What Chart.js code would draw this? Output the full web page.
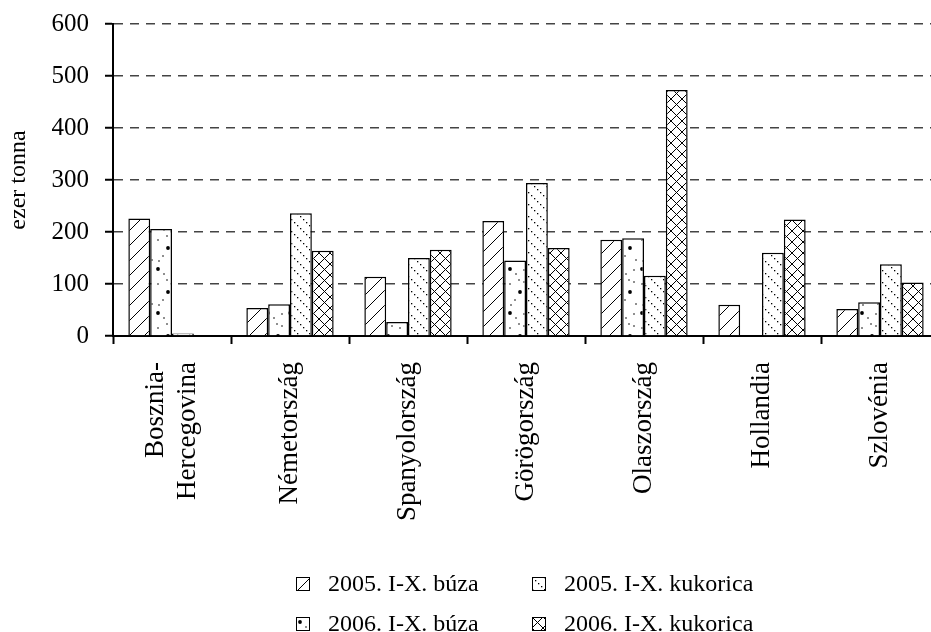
<!DOCTYPE html>
<html>
<head>
<meta charset="utf-8">
<script src="https://cdn.jsdelivr.net/npm/chart.js@4.4.1/dist/chart.umd.min.js"></script>
<style>
    html, body { margin: 0; padding: 0; background: #fff; width: 931px; height: 632px; overflow: hidden; }
    #wrap { position: absolute; left: 0; top: 0; width: 939px; height: 632px; }
    .leg { position: absolute; font-family: "Liberation Serif", "Times New Roman", serif; font-size: 24px; color: #000; line-height: 24px; white-space: nowrap; }
    .leg canvas { position: absolute; left: 0; top: 6px; }
    .leg span { position: absolute; left: 32px; top: 0; }
</style>
</head>
<body>
<div id="wrap"><canvas id="chart" width="939" height="632"></canvas></div>
<div class="leg" id="leg0" style="left:296px; top:571px;"><canvas width="14" height="14"></canvas><span></span></div>
<div class="leg" id="leg2" style="left:532px; top:571px;"><canvas width="14" height="14"></canvas><span></span></div>
<div class="leg" id="leg1" style="left:296px; top:611px;"><canvas width="14" height="14"></canvas><span></span></div>
<div class="leg" id="leg3" style="left:532px; top:611px;"><canvas width="14" height="14"></canvas><span></span></div>
<script>
(function () {
    'use strict';

    // data (ezer tonna)
    var categories = [['Bosznia-', 'Hercegovina'], 'Németország', 'Spanyolország', 'Görögország', 'Olaszország', 'Hollandia', 'Szlovénia'];
    var seriesNames = ['2005. I-X. búza', '2006. I-X. búza', '2005. I-X. kukorica', '2006. I-X. kukorica'];
    var buza2005 = [226, 54, 114, 221, 185, 60, 52];
    var buza2006 = [206, 61, 27, 145, 188, 0, 65];
    var kukorica2005 = [5, 236, 150, 294, 116, 160, 138];
    var kukorica2006 = [0, 164, 166, 169, 473, 224, 103];
    var yMin = 0, yMax = 600, yStep = 100;

    var FONT = '"Liberation Serif", "Times New Roman", serif';

    function tile(w, h, draw) {
        var c = document.createElement('canvas');
        c.width = w; c.height = h;
        var ctx = c.getContext('2d');
        ctx.fillStyle = '#fff';
        ctx.fillRect(0, 0, w, h);
        ctx.strokeStyle = '#000';
        ctx.fillStyle = '#000';
        ctx.lineWidth = 1;
        draw(ctx, w, h);
        return c;
    }

    function hatchTile() {
        return tile(15, 15, function (ctx, w, h) {
            ctx.beginPath();
            ctx.moveTo(-1, h + 1); ctx.lineTo(w + 1, -1);
            ctx.moveTo(-1, 1); ctx.lineTo(1, -1);
            ctx.moveTo(w - 1, h + 1); ctx.lineTo(w + 1, h - 1);
            ctx.stroke();
        });
    }

    function dotsTile() {
        return tile(22, 44, function (ctx) {
            var big = [[4, 5], [14, 28]];
            var small = [[10, 10], [18, 6], [4, 20], [18, 18], [9, 36], [20, 40], [5, 41], [13, 16]];
            big.forEach(function (p) { ctx.beginPath(); ctx.arc(p[0], p[1], 1.9, 0, Math.PI * 2); ctx.fill(); });
            small.forEach(function (p) { ctx.beginPath(); ctx.arc(p[0], p[1], 0.8, 0, Math.PI * 2); ctx.fill(); });
        });
    }

    function dottedDiagTile() {
        return tile(12, 12, function (ctx) {
            [0, 3, 6, 9].forEach(function (d) {
                ctx.fillRect(d, d, 1.3, 1.3);
            });
        });
    }

    function crossTile() {
        return tile(11, 11, function (ctx, w, h) {
            ctx.beginPath();
            ctx.moveTo(0, 0); ctx.lineTo(w, h);
            ctx.moveTo(0, h); ctx.lineTo(w, 0);
            ctx.stroke();
        });
    }

    var mainCtx = document.getElementById('chart').getContext('2d');
    var tiles = [hatchTile(), dotsTile(), dottedDiagTile(), crossTile()];
    var patterns = tiles.map(function (t) { return mainCtx.createPattern(t, 'repeat'); });
    var values = [buza2005, buza2006, kukorica2005, kukorica2006];

    var datasets = values.map(function (v, i) {
        return {
            label: seriesNames[i],
            data: v,
            backgroundColor: patterns[i],
            borderColor: '#000',
            borderWidth: 1.5,
            borderSkipped: 'bottom',
            categoryPercentage: 0.74,
            barPercentage: 1.0
        };
    });

    // Chart.js puts the first line of a rotated two-line label on the tick,
    // the original centres both lines on it
    var centreMultiline = {
        id: 'centreMultiline',
        beforeDraw: function (chart) {
            var sx = chart.scales.x;
            if (sx._centred) return;
            var items = sx.getLabelItems();
            items.forEach(function (it) {
                if (Array.isArray(it.label) && it.label.length > 1) {
                    var lh = it.font.lineHeight;
                    it.options.translation = [it.options.translation[0] - lh * (it.label.length - 1) / 2, it.options.translation[1]];
                }
            });
            sx._centred = true;
        }
    };

    new Chart(mainCtx, {
        type: 'bar',
        data: { labels: categories, datasets: datasets },
        plugins: [centreMultiline],
        options: {
            responsive: false,
            animation: false,
            devicePixelRatio: 1,
            layout: { padding: { left: 0, right: 0, top: 24, bottom: 0 } },
            plugins: { legend: { display: false }, tooltip: { enabled: false } },
            scales: {
                x: {
                    grid: {
                        display: true, drawOnChartArea: false, drawTicks: true, offset: true,
                        tickLength: 8, tickColor: '#000', tickWidth: 2, tickBorderDash: []
                    },
                    border: { color: '#000', width: 2 },
                    ticks: {
                        autoSkip: false, minRotation: 90, maxRotation: 90,
                        color: '#000', padding: 18,
                        font: { family: FONT, size: 27, lineHeight: 1.2 }
                    },
                    afterFit: function (s) { s.height = 296; }
                },
                y: {
                    min: yMin, max: yMax,
                    grid: {
                        color: '#444', lineWidth: 1.5, borderDash: [9, 7],
                        tickLength: 8, tickColor: '#000', tickWidth: 2, tickBorderDash: []
                    },
                    border: { color: '#000', width: 2, dash: [9, 7] },
                    ticks: {
                        stepSize: yStep, color: '#000', padding: 16,
                        font: { family: FONT, size: 25 }
                    },
                    title: {
                        display: true, text: 'ezer tonna', color: '#000',
                        font: { family: FONT, size: 24 },
                        padding: { top: 4, bottom: 0 }
                    },
                    afterFit: function (s) {
                        s.width = 113;
                        s.paddingTop = 0;
                        s.paddingBottom = 0;
                    }
                }
            }
        }
    });

    // legend: two columns like the original
    for (var i = 0; i < 4; i++) {
        var box = document.getElementById('leg' + i);
        var sw = box.querySelector('canvas');
        var sctx = sw.getContext('2d');
        sctx.fillStyle = sctx.createPattern(tiles[i], 'repeat');
        sctx.fillRect(0, 0, 14, 14);
        sctx.strokeStyle = '#000';
        sctx.lineWidth = 1;
        sctx.strokeRect(0.5, 0.5, 13, 13);
        box.querySelector('span').textContent = seriesNames[i];
    }
})();
</script>
</body>
</html>
